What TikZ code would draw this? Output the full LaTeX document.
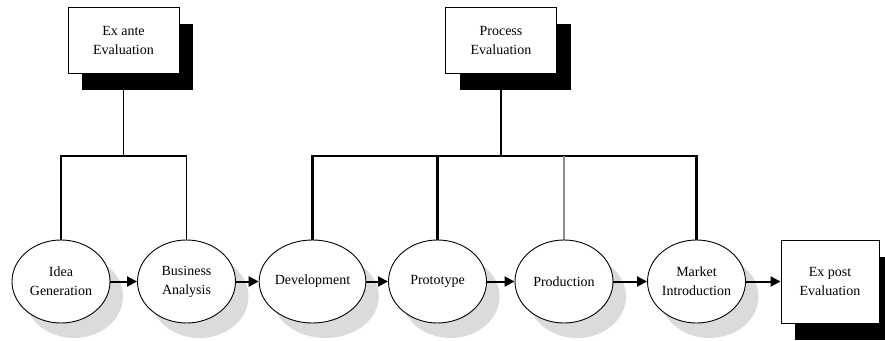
\documentclass[tikz,border=0pt]{standalone}
\usepackage{fontspec}
\setmainfont{Liberation Serif}
\usetikzlibrary{shapes.geometric,shadows,arrows.meta,backgrounds}
\begin{document}
\begin{tikzpicture}[x=1pt,y=-1pt,
  every node/.style={font=\fontsize{14}{19}\selectfont, text=black, align=center},
  evalbox/.style={draw=black, line width=0.9pt, fill=white, rectangle,
    minimum width=111pt, minimum height=66pt, inner sep=0pt,
    drop shadow={shadow xshift=14pt, shadow yshift=-17pt, fill=black, opacity=1}},
  stage/.style={draw=black, line width=0.9pt, fill=white, ellipse,
    minimum width=98pt, minimum height=83pt, inner sep=0pt,
    drop shadow={shadow xshift=13pt, shadow yshift=-15pt, fill=black!14, opacity=1}},
  flow/.style={line width=2pt, -{Triangle[length=10pt,width=10pt]}},
  thickbar/.style={line width=2.3pt},
  thinbar/.style={line width=1.2pt}]
\useasboundingbox (0,0) rectangle (885,340);

% evaluation boxes
\node[evalbox] (exante) at (123.5,40) {Ex ante\\Evaluation};
\node[evalbox] (process) at (501,40) {Process\\Evaluation};
\node[evalbox, minimum width=98pt, minimum height=83pt] (expost) at (830,281.5) {Ex post\\Evaluation};

% process stages
\node[stage] (idea) at (61,281.5) {Idea\\Generation};
\node[stage] (business) at (186.5,281.5) {Business\\Analysis};
\node[stage] (devel) at (312.5,281.5) {Development};
\node[stage] (proto) at (437.5,281.5) {Prototype};
\node[stage] (prod) at (564,281.5) {Production};
\node[stage] (market) at (696.5,281.5) {Market\\Introduction};

% stage flow
\draw[flow] (idea.east) -- (business.west);
\draw[flow] (business.east) -- (devel.west);
\draw[flow] (devel.east) -- (proto.west);
\draw[flow] (proto.east) -- (prod.west);
\draw[flow] (prod.east) -- (market.west);
\draw[flow] (market.east) -- (expost.west);

% evaluation brackets
\begin{scope}[on background layer]
  \coordinate (anteBar) at (123.5,156);
  \coordinate (procBar) at (501,156);
  \draw[thinbar] (exante.south) -- (anteBar);
  \draw[thickbar] (idea.north) |- (anteBar) -- (anteBar -| business.north);
  \draw[line width=1.6pt] (anteBar -| business.north) -- (business.north);
  \draw[thickbar] (process.south) -- (procBar);
  \draw[thickbar] (devel.north) |- (procBar) -- (procBar -| market.north) -- (market.north);
  \draw[thickbar] (procBar -| proto.north) -- (proto.north);
  \draw[thinbar, black!45] (procBar -| prod.north) -- (prod.north);
\end{scope}
\end{tikzpicture}
\end{document}
